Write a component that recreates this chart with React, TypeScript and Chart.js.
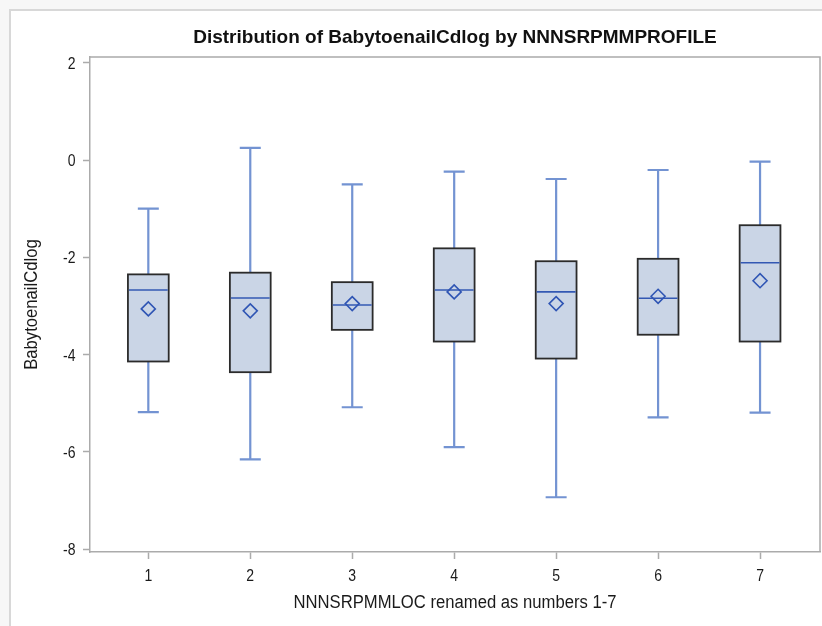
import React, { useEffect, useRef } from 'react';
import { Chart, registerables } from 'chart.js';

Chart.register(...registerables);

// ---- data ----
const categories = [1, 2, 3, 4, 5, 6, 7];
const whiskerLow = [-5.18, -6.15, -5.08, -5.9, -6.93, -5.29, -5.19];
const q1 = [-4.14, -4.36, -3.49, -3.73, -4.08, -3.59, -3.73];
const medians = [-2.67, -2.835, -2.98, -2.67, -2.71, -2.84, -2.11];
const q3 = [-2.35, -2.315, -2.51, -1.815, -2.08, -2.03, -1.34];
const whiskerHigh = [-1.0, 0.25, -0.5, -0.24, -0.39, -0.205, -0.034];
const means = [-3.06, -3.1, -2.95, -2.71, -2.95, -2.8, -2.48];
const yTicks = [-8, -6, -4, -2, 0, 2];
const xTicks = categories;
const xTickLabels = ['1', '2', '3', '4', '5', '6', '7'];
const yTickLabels = ['-8', '-6', '-4', '-2', '0', '2'];

const titleText = 'Distribution of BabytoenailCdlog by NNNSRPMMPROFILE';
const xTitle = 'NNNSRPMMLOC renamed as numbers 1-7';
const yTitle = 'BabytoenailCdlog';

const FONT = '"Liberation Sans", Arial, Helvetica, sans-serif';

function squeezedText(
  ctx: CanvasRenderingContext2D,
  text: string,
  x: number,
  y: number,
  align: CanvasTextAlign,
  squeeze: number,
  rot = 0
) {
  ctx.save();
  ctx.translate(x, y);
  if (rot) ctx.rotate(rot);
  ctx.scale(squeeze, 1);
  ctx.textAlign = align;
  ctx.textBaseline = 'alphabetic';
  ctx.fillText(text, 0, 0);
  ctx.restore();
}

const boxPlugin = {
  id: 'boxPlot',
  beforeDatasetsDraw(chart: any) {
    const ctx = chart.ctx;
    const xs = chart.scales.x;
    const ys = chart.scales.y;
    const unit = xs.getPixelForValue(2) - xs.getPixelForValue(1);
    const halfBox = unit * 0.2;
    const halfCap = unit * 0.103;
    ctx.save();
    categories.forEach((c, i) => {
      const x = xs.getPixelForValue(c);
      const yLo = ys.getPixelForValue(whiskerLow[i]);
      const yQ1 = ys.getPixelForValue(q1[i]);
      const yMed = ys.getPixelForValue(medians[i]);
      const yQ3 = ys.getPixelForValue(q3[i]);
      const yHi = ys.getPixelForValue(whiskerHigh[i]);
      // whiskers
      ctx.strokeStyle = '#7393d2';
      ctx.lineWidth = 2.2;
      ctx.beginPath();
      ctx.moveTo(x, yQ3);
      ctx.lineTo(x, yHi);
      ctx.moveTo(x - halfCap, yHi);
      ctx.lineTo(x + halfCap, yHi);
      ctx.moveTo(x, yQ1);
      ctx.lineTo(x, yLo);
      ctx.moveTo(x - halfCap, yLo);
      ctx.lineTo(x + halfCap, yLo);
      ctx.stroke();
      // box
      ctx.fillStyle = '#cad5e6';
      ctx.fillRect(x - halfBox, yQ3, halfBox * 2, yQ1 - yQ3);
      ctx.strokeStyle = '#2b2b2b';
      ctx.lineWidth = 1.8;
      ctx.strokeRect(x - halfBox, yQ3, halfBox * 2, yQ1 - yQ3);
      // median
      ctx.strokeStyle = '#3358b3';
      ctx.lineWidth = 1.6;
      ctx.beginPath();
      ctx.moveTo(x - halfBox + 1, yMed);
      ctx.lineTo(x + halfBox - 1, yMed);
      ctx.stroke();
    });
    ctx.restore();
  },
  afterDraw(chart: any) {
    const ctx = chart.ctx;
    const a = chart.chartArea;
    const xs = chart.scales.x;
    const ys = chart.scales.y;
    ctx.save();
    // frame top & right
    ctx.strokeStyle = '#ababab';
    ctx.lineWidth = 1.5;
    ctx.beginPath();
    ctx.moveTo(a.left, a.top);
    ctx.lineTo(a.right, a.top);
    ctx.lineTo(a.right, a.bottom);
    ctx.stroke();
    const cx = (a.left + a.right) / 2;
    // tick labels
    ctx.fillStyle = '#1a1a1a';
    ctx.font = '16.5px ' + FONT;
    yTicks.forEach((v, i) => {
      squeezedText(ctx, yTickLabels[i], ys.left + ys.width - 14.5, ys.getPixelForValue(v) + 6, 'right', 0.85);
    });
    xTicks.forEach((v, i) => {
      squeezedText(ctx, xTickLabels[i], xs.getPixelForValue(v), a.bottom + 29, 'center', 0.85);
    });
    // titles
    ctx.fillStyle = '#111';
    ctx.font = 'bold 19px ' + FONT;
    squeezedText(ctx, titleText, cx, a.top - 14.5, 'center', 1);
    ctx.fillStyle = '#1a1a1a';
    ctx.font = '18px ' + FONT;
    squeezedText(ctx, xTitle, cx, a.bottom + 56.3, 'center', 0.925);
    squeezedText(ctx, yTitle, 36.7, (a.top + a.bottom) / 2, 'center', 0.925, -Math.PI / 2);
    ctx.restore();
  },
};

export default function App() {
  const ref = useRef<HTMLCanvasElement | null>(null);
  useEffect(() => {
    if (!ref.current) return;
    const chart = new Chart(ref.current, {
      type: 'scatter',
      data: {
        datasets: [
          {
            label: 'Mean',
            data: categories.map((c, i) => ({ x: c, y: means[i] })),
            pointStyle: 'rectRot',
            pointRadius: 7,
            pointHoverRadius: 7,
            pointBackgroundColor: 'rgba(0,0,0,0)',
            pointBorderColor: '#2f55b4',
            pointBorderWidth: 1.6,
            showLine: false,
          },
        ],
      },
      options: {
        animation: false,
        responsive: false,
        maintainAspectRatio: false,
        events: [],
        layout: { autoPadding: false, padding: { top: 57, right: 2, left: 0, bottom: 0 } },
        plugins: { legend: { display: false }, title: { display: false }, tooltip: { enabled: false } },
        scales: {
          x: {
            type: 'linear',
            min: 0.428,
            max: 7.588,
            afterBuildTicks: (s: any) => {
              s.ticks = xTicks.map((v) => ({ value: v }));
            },
            afterFit: (s: any) => {
              s.height = 74;
              s.paddingLeft = 0;
              s.paddingRight = 0;
            },
            grid: { drawOnChartArea: false, drawTicks: true, tickLength: 7, tickColor: '#ababab', tickWidth: 1.5 },
            border: { display: true, color: '#ababab', width: 1.5 },
            ticks: { display: false },
          },
          y: {
            type: 'linear',
            min: -8.055,
            max: 2.117,
            afterBuildTicks: (s: any) => {
              s.ticks = yTicks.map((v) => ({ value: v }));
            },
            afterFit: (s: any) => {
              s.width = 90;
              s.paddingTop = 0;
              s.paddingBottom = 0;
            },
            grid: { drawOnChartArea: false, drawTicks: true, tickLength: 7, tickColor: '#ababab', tickWidth: 1.5 },
            border: { display: true, color: '#ababab', width: 1.5 },
            ticks: { display: false },
          },
        },
      },
      plugins: [boxPlugin],
    });
    return () => chart.destroy();
  }, []);

  return (
    <div style={{ position: 'fixed', left: 0, top: 0, width: 822, height: 626, background: '#f7f7f7', overflow: 'hidden' }}>
      <div
        style={{
          position: 'absolute',
          left: 9,
          top: 9,
          right: 0,
          bottom: 0,
          borderLeft: '2px solid #d8d8d8',
          borderTop: '2px solid #d8d8d8',
          background: '#ffffff',
        }}
      />
      <canvas ref={ref} width={822} height={626} style={{ position: 'absolute', left: 0, top: 0 }} />
    </div>
  );
}
